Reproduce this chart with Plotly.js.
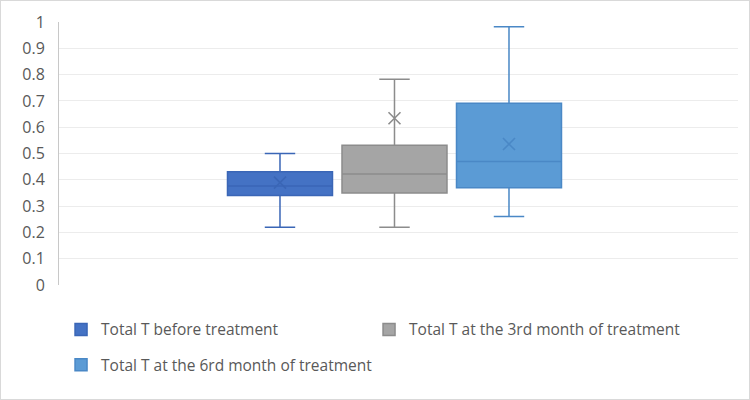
<!DOCTYPE html>
<html>
<head>
<meta charset="utf-8">
<script src="https://cdn.plot.ly/plotly-3.0.1.min.js"></script>
<style>
  html, body { margin: 0; padding: 0; background: #fff; }
  #wrap { position: relative; width: 750px; height: 400px; }
  #chart { width: 750px; height: 400px; }
  #frame { position: absolute; left: 0; top: 0; width: 748px; height: 398px; border: 1px solid #d9d9d9; pointer-events: none; }
</style>
</head>
<body>
<div id="wrap"><div id="chart"></div><div id="frame"></div></div>
<script>
// Data
const seriesNames = [
  "Total T before treatment",
  "Total T at the 3rd month of treatment",
  "Total T at the 6rd month of treatment"
];
const lowerWhisker = [0.22, 0.22, 0.26];
const q1Values     = [0.34, 0.35, 0.37];
const medianValues = [0.376, 0.422, 0.47];
const q3Values     = [0.431, 0.531, 0.691];
const upperWhisker = [0.50, 0.782, 0.982];
const meanValues   = [0.389, 0.634, 0.536];
const yTickValues  = [0, 0.1, 0.2, 0.3, 0.4, 0.5, 0.6, 0.7, 0.8, 0.9, 1];

// Styles
const fillColors = ["#4472c4", "#a5a5a5", "#5b9bd5"];
const lineColors = ["#3a66b6", "#8c8c8c", "#4a88c6"];
const legendIds  = ["legend", "legend2", "legend3"];

const traces = seriesNames.map((name, i) => ({
  type: "box",
  name: name,
  x: [name],
  lowerfence: [lowerWhisker[i]],
  q1: [q1Values[i]],
  median: [medianValues[i]],
  q3: [q3Values[i]],
  upperfence: [upperWhisker[i]],
  fillcolor: fillColors[i],
  line: { color: lineColors[i], width: 1.5 },
  width: 0.917,
  whiskerwidth: 0.29,
  boxpoints: false,
  hoverinfo: "skip",
  legend: legendIds[i]
}));

traces.push({
  type: "scatter",
  mode: "markers",
  x: seriesNames,
  y: meanValues,
  showlegend: false,
  hoverinfo: "skip",
  marker: { symbol: "x-thin-open", size: 12, color: lineColors, line: { color: lineColors, width: 1.6 } }
});

const legendFont = { family: "Open Sans, sans-serif", size: 15.5, color: "#595959" };
function legendAt(xPaper, yPaper) {
  return {
    orientation: "h",
    x: xPaper, xanchor: "left",
    y: yPaper, yanchor: "top",
    font: legendFont,
    bgcolor: "rgba(0,0,0,0)"
  };
}

const layout = {
  width: 750,
  height: 400,
  margin: { l: 59, r: 12, t: 22, b: 115 },
  paper_bgcolor: "#ffffff",
  plot_bgcolor: "#ffffff",
  showlegend: true,
  xaxis: {
    type: "category",
    categoryorder: "array",
    categoryarray: seriesNames,
    range: [-1.93, 4.0],
    showticklabels: false,
    showgrid: false,
    zeroline: false,
    showline: false,
    fixedrange: true
  },
  yaxis: {
    range: [0, 1],
    tickvals: yTickValues,
    ticktext: yTickValues.map(v => String(v)),
    showgrid: true,
    gridcolor: "#ececec",
    gridwidth: 1,
    zeroline: false,
    showline: true,
    linecolor: "#c8c8c8",
    linewidth: 1,
    ticks: "",
    ticklabelstandoff: 10,
    tickfont: { family: "Open Sans, sans-serif", size: 16, color: "#595959" },
    fixedrange: true
  },
  legend: legendAt(0.003, -0.106),
  legend2: legendAt(0.4566, -0.106),
  legend3: legendAt(0.003, -0.24)
};

Plotly.newPlot("chart", traces, layout, { displayModeBar: false, staticPlot: true });
</script>
</body>
</html>
